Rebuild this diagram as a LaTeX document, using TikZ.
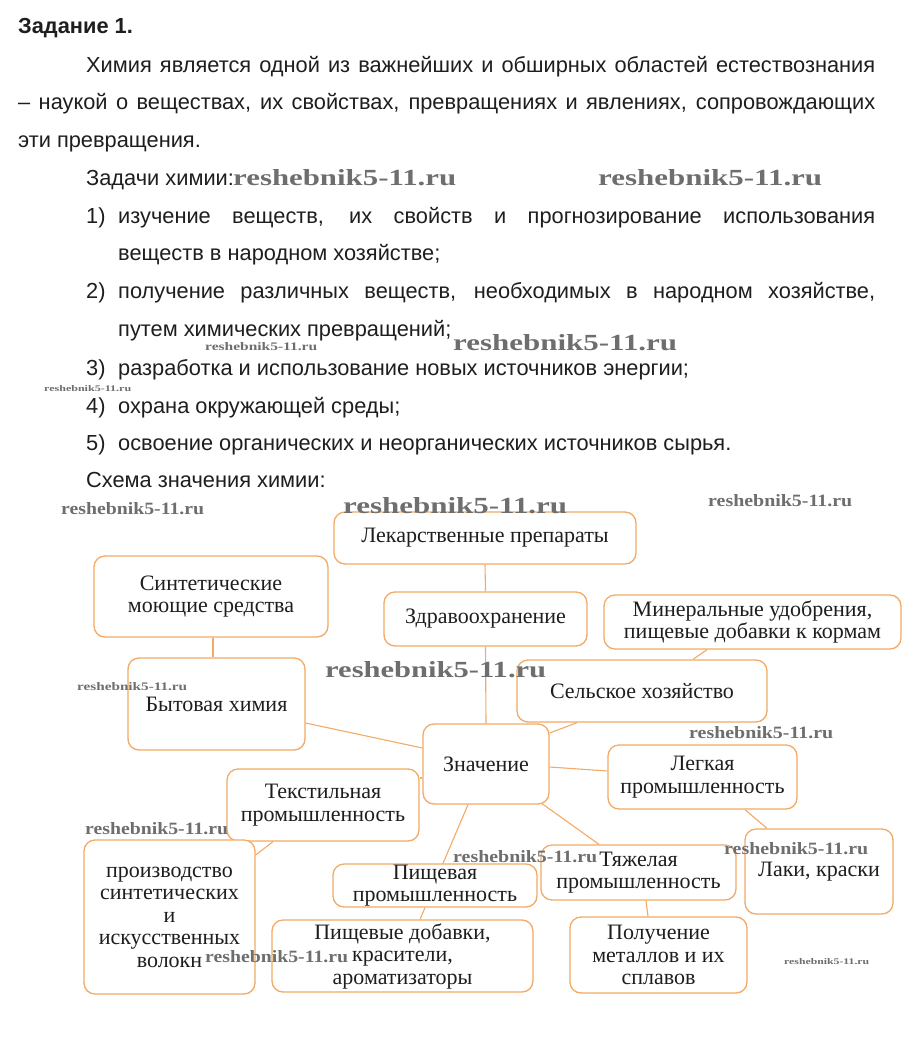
\documentclass[tikz,border=0pt]{standalone}
\usepackage{fontspec}
\usepackage{graphicx}
\setmainfont{Liberation Serif}
\newfontfamily\bodyfont{Liberation Sans}
\usetikzlibrary{calc}
\definecolor{boxor}{RGB}{242,170,102}
\definecolor{wmgray}{RGB}{110,110,110}
\definecolor{ink}{RGB}{30,30,30}
\newcommand\wmtext[2]{\resizebox{#1pt}{#2pt}{\bfseries reshebnik5-11.ru}}
\tikzset{
  box/.style={draw=boxor, line width=1.3pt, rounded corners=11pt, fill=white, inner sep=0pt},
  lbl/.style={align=center, inner sep=0pt, text=ink, font=\fontsize{22}{22.5}\selectfont},
  link/.style={draw=boxor, line width=1.1pt},
  txt/.style={anchor=base west, inner sep=0pt, text=ink, font=\bodyfont\fontsize{21.8}{24}\selectfont},
  ttl/.style={anchor=base west, inner sep=0pt, text=ink, font=\bodyfont\bfseries\fontsize{21.8}{24}\selectfont},
  wm/.style={anchor=west, inner sep=0pt, text=wmgray},
}
\begin{document}
\begin{tikzpicture}[x=1pt,y=-1pt]
\fill[white] (0,0) rectangle (917,1046);
\useasboundingbox (0,0) rectangle (917,1046);

% ---- text ----
\node[ttl] (t0) at (18,33.5) {Задание 1.};
\node[txt] (t1) at (86,72.5) {\makebox[789pt][s]{Химия является одной из важнейших и обширных областей естествознания}};
\node[txt] (t2) at (18,110) {\makebox[857pt][s]{– наукой о веществах, их свойствах, превращениях и явлениях, сопровождающих}};
\node[txt] (t3) at (18,147) {эти превращения.};
\node[txt] (t4) at (86,185) {Задачи химии:};
\node[txt] (n1) at (86,223) {1)};
\node[txt] (t5) at (118,223) {\makebox[757pt][s]{изучение веществ, их свойств и прогнозирование использования}};
\node[txt] (t6) at (118,260) {веществ в народном хозяйстве;};
\node[txt] (n2) at (86,298) {2)};
\node[txt] (t7) at (118,298) {\makebox[757pt][s]{получение различных веществ, необходимых в народном хозяйстве,}};
\node[txt] (t8) at (118,336.5) {путем химических превращений;};
\node[txt] (n3) at (86,375) {3)};
\node[txt] (t9) at (118,375) {разработка и использование новых источников энергии;};
\node[txt] (n4) at (86,413) {4)};
\node[txt] (t10) at (118,413) {охрана окружающей среды;};
\node[txt] (n5) at (86,450) {5)};
\node[txt] (t11) at (118,450) {освоение органических и неорганических источников сырья.};
\node[txt] (t12) at (86,487) {Схема значения химии:};

% ---- boxes ----
\node[box, minimum width=302pt, minimum height=52pt] (lek) at (485,538) {};
\node[box, minimum width=234pt, minimum height=81pt] (sint) at (211,596.5) {};
\node[box, minimum width=203pt, minimum height=54pt] (zdrav) at (485.5,619) {};
\node[box, minimum width=297pt, minimum height=54pt] (miner) at (752.5,622) {};
\node[box, minimum width=250pt, minimum height=62pt] (selsk) at (642,691) {};
\node[box, minimum width=177pt, minimum height=92pt] (byt) at (216.5,704) {};
\node[box, minimum width=126pt, minimum height=80pt] (znach) at (486,764) {};
\node[box, minimum width=189pt, minimum height=64pt] (legk) at (702.5,777) {};
\node[box, minimum width=192pt, minimum height=72pt] (tekst) at (323,805) {};
\node[box, minimum width=171pt, minimum height=154pt] (proizv) at (169.5,917) {};
\node[box, minimum width=204pt, minimum height=43pt] (pishch) at (435,885.5) {};
\node[box, minimum width=261pt, minimum height=72pt] (dobav) at (402.5,956) {};
\node[box, minimum width=195pt, minimum height=55pt] (tyazh) at (638.5,872.5) {};
\node[box, minimum width=148pt, minimum height=85pt] (laki) at (819,871.5) {};
\node[box, minimum width=177pt, minimum height=76pt] (polych) at (658.5,955) {};

% ---- connectors ----
\draw[link] (lek.south) -- (zdrav.north);
\draw[link] (zdrav.south) -- (znach.north);
\draw[link] ($(sint.south)+(2,0)$) -- ($(byt.north)+(-3.5,0)$);
\draw[link] ($(byt.east)+(0,19)$) -- ($(znach.west)+(0,-16)$);
\draw[link] ($(miner.south)+(-45.5,0)$) -- ($(selsk.north)+(51,0)$);
\draw[link] ($(selsk.south)+(-65,0)$) -- ($(znach.east)+(0,-31)$);
\draw[link] ($(znach.east)+(0,3)$) -- ($(legk.west)+(0,-6)$);
\draw[link] ($(legk.south)+(42.5,0)$) -- ($(laki.north)+(-52,0)$);
\draw[link] ($(znach.south)+(-18,0)$) -- ($(pishch.north)+(8,0)$);
\draw[link] ($(znach.south)+(56,-1)$) -- ($(tyazh.north)+(-39.5,0)$);
\draw[link] ($(tekst.east)+(0,-27)$) -- ($(znach.west)+(0,14)$);
\draw[link] ($(tekst.south)+(-50,0)$) -- ($(proizv.east)+(0,-62)$);
\draw[link] ($(pishch.south)+(-10,0)$) -- ($(dobav.north)+(17.5,0)$);
\draw[link] ($(tyazh.south)+(7.5,0)$) -- ($(polych.north)+(-10.5,0)$);

% ---- labels ----
\node[lbl] (lekT) at (lek) {Лекарственные препараты};
\node[lbl] (sintT) at (sint) {Синтетические\\моющие средства};
\node[lbl] (zdravT) at (zdrav) {Здравоохранение};
\node[lbl] (minerT) at (miner) {Минеральные удобрения,\\пищевые добавки к кормам};
\node[lbl] (selskT) at (selsk) {Сельское хозяйство};
\node[lbl] (bytT) at (byt) {Бытовая химия};
\node[lbl] (znachT) at (znach) {Значение};
\node[lbl] (legkT) at (legk) {Легкая\\промышленность};
\node[lbl] (tekstT) at (tekst) {Текстильная\\промышленность};
\node[lbl] (proizvT) at (proizv) {производство\\синтетических\\и\\искусственных\\волокн};
\node[lbl] (pishchT) at (pishch) {Пищевая\\промышленность};
\node[lbl] (dobavT) at (dobav) {Пищевые добавки,\\красители,\\ароматизаторы};
\node[lbl] (tyazhT) at (tyazh) {Тяжелая\\промышленность};
\node[lbl] (lakiT) at (laki) {Лаки, краски};
\node[lbl] (polychT) at (polych) {Получение\\металлов и их\\сплавов};

% ---- watermarks ----
\node[wm] (w1) at (233,178) {\wmtext{223}{16}};
\node[wm] (w2) at (598,178) {\wmtext{224}{16}};
\node[wm] (w3) at (453,343) {\wmtext{224}{16}};
\node[wm] (w4) at (205,347) {\wmtext{112}{8}};
\node[wm] (w5) at (44,389) {\wmtext{87}{6}};
\node[wm] (w6) at (343,506) {\wmtext{224}{16}};
\node[wm] (w7) at (61,509) {\wmtext{143}{12}};
\node[wm] (w8) at (708,501) {\wmtext{144}{12}};
\node[wm] (w9) at (325,670) {\wmtext{221}{16}};
\node[wm] (w10) at (77,687) {\wmtext{110}{8}};
\node[wm] (w11) at (689,733) {\wmtext{144}{12}};
\node[wm] (w12) at (85,829) {\wmtext{143}{12}};
\node[wm] (w13) at (453,857) {\wmtext{144}{12}};
\node[wm] (w14) at (724,849) {\wmtext{144}{12}};
\node[wm] (w15) at (205,957) {\wmtext{143}{12}};
\node[wm] (w16) at (784,962) {\wmtext{85}{6}};
\end{tikzpicture}
\end{document}
